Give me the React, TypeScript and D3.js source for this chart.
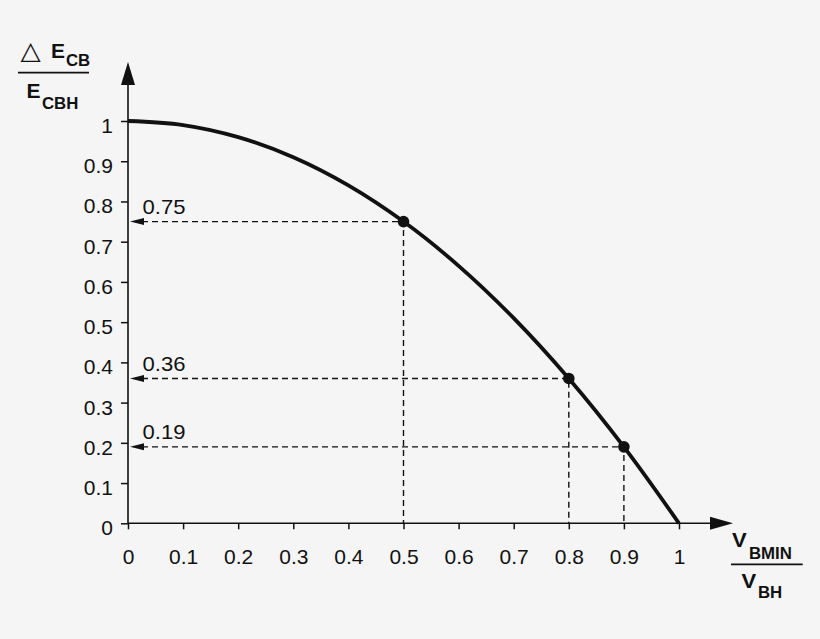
/**
 * Relative energy loss versus relative minimum voltage, with read-off guides.
 */
import React, {useEffect, useRef} from 'react';
import * as d3 from 'd3';

// Curve
const ratioX = [0, 0.1, 0.2, 0.3, 0.4, 0.5, 0.6, 0.7, 0.8, 0.9, 1];
const ratioY = [1, 0.99, 0.96, 0.91, 0.84, 0.75, 0.64, 0.51, 0.36, 0.19, 0];

// Axis ticks
const xTicks = [0, 0.1, 0.2, 0.3, 0.4, 0.5, 0.6, 0.7, 0.8, 0.9, 1];
const xTickLabels = ['0', '0.1', '0.2', '0.3', '0.4', '0.5', '0.6', '0.7', '0.8', '0.9', '1'];
const yTicks = [0, 0.1, 0.2, 0.3, 0.4, 0.5, 0.6, 0.7, 0.8, 0.9, 1];
const yTickLabels = ['0', '0.1', '0.2', '0.3', '0.4', '0.5', '0.6', '0.7', '0.8', '0.9', '1'];

// Marked points with dashed read-off lines
const markedX = [0.5, 0.8, 0.9];
const markedY = [0.75, 0.36, 0.19];
const markedLabels = ['0.75', '0.36', '0.19'];

const WIDTH = 820;
const HEIGHT = 639;
const INK = '#111';
const FONT = '"Liberation Sans", Arial, sans-serif';
const SX = 1.05; // the original lettering is slightly wide

export default function App() {
  const svgRef = useRef<SVGSVGElement>(null);

  useEffect(() => {
    if (!svgRef.current) return;
    const root = d3.select(svgRef.current);
    root.selectAll('*').remove();

    const x = d3.scaleLinear().domain([0, 1]).range([128, 679]);
    const y = d3.scaleLinear().domain([0, 1]).range([523.3, 121]);

    root
      .append('rect')
      .attr('width', WIDTH)
      .attr('height', HEIGHT)
      .attr('fill', '#f5f5f5');

    const svg = root.append('g');

    // place a stretched text
    const addText = (
      tx: number,
      ty: number,
      str: string,
      size: number,
      opts: {bold?: boolean; anchor?: string; family?: string} = {},
    ) =>
      svg
        .append('text')
        .attr('transform', `translate(${tx},${ty}) scale(${SX},1)`)
        .attr('text-anchor', opts.anchor || 'start')
        .attr('font-family', opts.family || FONT)
        .attr('font-weight', opts.bold ? 'bold' : 'normal')
        .attr('font-size', size)
        .attr('fill', INK)
        .text(str);

    const restyle = (g: d3.Selection<SVGGElement, unknown, null, undefined>, dy: number) => {
      g.select('.domain').remove();
      g.selectAll('line').attr('stroke', INK).attr('stroke-width', 1.5);
      g.selectAll<SVGTextElement, unknown>('text').each(function () {
        const t = d3.select(this);
        const tx = +(t.attr('x') || 0);
        const ty = +(t.attr('y') || 0);
        t.attr('x', 0)
          .attr('y', 0)
          .attr('dy', null)
          .attr('transform', `translate(${tx},${ty + dy}) scale(${SX},1)`)
          .attr('font-family', FONT)
          .attr('font-size', 20)
          .attr('fill', INK);
      });
    };

    // Axes
    svg
      .append('g')
      .attr('transform', `translate(${x(0)},0)`)
      .call(
        d3
          .axisLeft(y)
          .tickValues(yTicks)
          .tickFormat((_, i) => yTickLabels[i])
          .tickSize(7)
          .tickPadding(8),
      )
      .call((g) => restyle(g, 11.5));

    svg
      .append('g')
      .attr('transform', `translate(0,${y(0)})`)
      .call(
        d3
          .axisBottom(x)
          .tickValues(xTicks)
          .tickFormat((_, i) => xTickLabels[i])
          .tickSize(6)
          .tickPadding(0),
      )
      .call((g) => restyle(g, 34.5));

    // Axis lines with arrows
    const yTop = y(1) - 36;
    svg
      .append('line')
      .attr('x1', x(0))
      .attr('x2', x(0))
      .attr('y1', y(0))
      .attr('y2', yTop)
      .attr('stroke', INK)
      .attr('stroke-width', 1.6);
    svg
      .append('path')
      .attr('d', `M${x(0) - 7},${yTop} L${x(0) + 7},${yTop} L${x(0)},${yTop - 23} Z`)
      .attr('fill', INK);

    const xEnd = x(1) + 31;
    svg
      .append('line')
      .attr('x1', x(0))
      .attr('x2', xEnd)
      .attr('y1', y(0))
      .attr('y2', y(0))
      .attr('stroke', INK)
      .attr('stroke-width', 1.6);
    svg
      .append('path')
      .attr('d', `M${xEnd},${y(0) - 6.5} L${xEnd},${y(0) + 6.5} L${xEnd + 23},${y(0)} Z`)
      .attr('fill', INK);

    // Dashed read-off lines
    markedX.forEach((mx, i) => {
      const my = markedY[i];
      svg
        .append('path')
        .attr('d', `M${x(0) + 14},${y(my)} H${x(mx)} V${y(0)}`)
        .attr('fill', 'none')
        .attr('stroke', INK)
        .attr('stroke-width', 1.4)
        .attr('stroke-dasharray', '6,4');
      svg
        .append('path')
        .attr('d', `M${x(0) + 2},${y(my)} L${x(0) + 16},${y(my) - 3.5} L${x(0) + 16},${y(my) + 3.5} Z`)
        .attr('fill', INK);
      addText(x(0) + 14.5, y(my) - 7.5, markedLabels[i], 21);
    });

    // Curve
    const line = d3
      .line<number>()
      .x((d) => x(d))
      .y((_, i) => y(ratioY[i]))
      .curve(d3.curveCatmullRom.alpha(0.5));
    svg
      .append('path')
      .datum(ratioX)
      .attr('d', line)
      .attr('fill', 'none')
      .attr('stroke', INK)
      .attr('stroke-width', 3.8);

    svg
      .selectAll('circle.mark')
      .data(markedX)
      .join('circle')
      .attr('class', 'mark')
      .attr('cx', (d) => x(d))
      .attr('cy', (_, i) => y(markedY[i]))
      .attr('r', 5.8)
      .attr('fill', INK);

    // Y axis title: ΔE_CB / E_CBH
    addText(20.5, 58.5, '△', 25, {family: '"DejaVu Sans", sans-serif'});
    addText(51, 58.3, 'E', 20, {bold: true});
    addText(66, 65.7, 'CB', 16, {bold: true});
    svg
      .append('line')
      .attr('x1', 18)
      .attr('x2', 89)
      .attr('y1', 72.7)
      .attr('y2', 72.7)
      .attr('stroke', INK)
      .attr('stroke-width', 1.8);
    addText(26.5, 98.3, 'E', 20, {bold: true});
    addText(42, 109, 'CBH', 16, {bold: true});

    // X axis title: V_BMIN / V_BH
    addText(732, 547.3, 'V', 21, {bold: true});
    addText(749, 559.3, 'BMIN', 16, {bold: true});
    svg
      .append('line')
      .attr('x1', 731)
      .attr('x2', 802.7)
      .attr('y1', 564.3)
      .attr('y2', 564.3)
      .attr('stroke', INK)
      .attr('stroke-width', 1.8);
    addText(741.5, 588.3, 'V', 21, {bold: true});
    addText(758, 597.7, 'BH', 16, {bold: true});
  }, []);

  return (
    <svg
      ref={svgRef}
      width={WIDTH}
      height={HEIGHT}
      style={{position: 'absolute', left: 0, top: 0}}
    />
  );
}
